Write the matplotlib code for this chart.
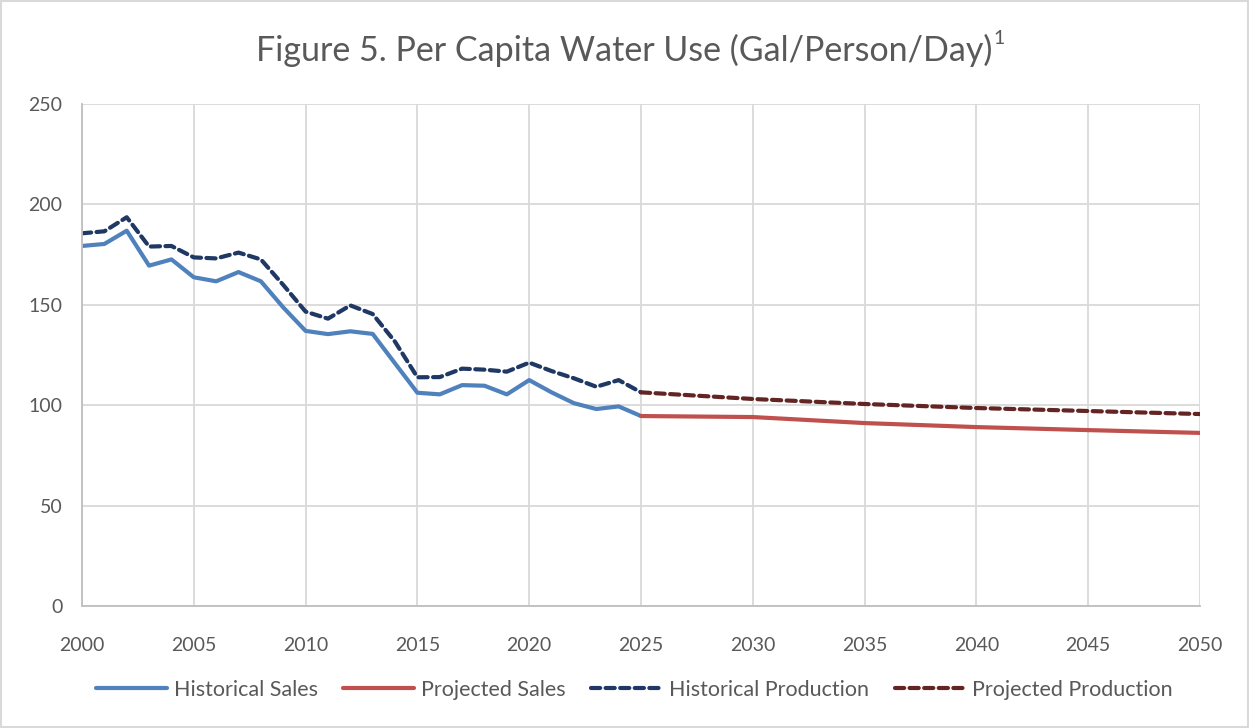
import matplotlib
matplotlib.use("Agg")
import matplotlib.pyplot as plt
from matplotlib.patches import Rectangle

plt.rcParams['font.family'] = ['Lato', 'DejaVu Sans']

hist_years = list(range(2000, 2026))
hist_sales = [179.3, 180.3, 186.9, 169.5, 172.6, 163.7, 161.7, 166.3, 161.7, 148.7,
              137.0, 135.4, 136.8, 135.5, 120.8, 106.2, 105.4, 110.0, 109.7, 105.4,
              112.5, 106.4, 101.0, 98.1, 99.4, 94.6]
hist_prod = [185.6, 186.6, 193.6, 179.0, 179.3, 173.6, 173.1, 176.0, 172.6, 159.9,
             146.6, 143.1, 149.7, 145.4, 131.6, 113.9, 114.0, 118.2, 117.7, 116.7,
             121.2, 117.0, 113.4, 109.2, 112.5, 106.4]
proj_years = [2025, 2030, 2035, 2040, 2045, 2050]
proj_sales = [94.6, 94.1, 91.1, 89.1, 87.6, 86.2]
proj_prod = [106.4, 103.1, 100.6, 98.6, 97.1, 95.6]

x_ticks = list(range(2000, 2051, 5))
y_ticks = [0, 50, 100, 150, 200, 250]

fig = plt.figure(figsize=(12.49, 7.28), dpi=100)
ax = fig.add_axes([82/1249, 1-606/728, (1200-82)/1249, (606-104)/728])

dash = (0, (2.2, 1.3))
ax.plot(hist_years, hist_sales, color='#4F81BD', lw=3, label='Historical Sales', solid_capstyle='round')
ax.plot(proj_years, proj_sales, color='#C0504D', lw=3, label='Projected Sales', solid_capstyle='round')
ax.plot(hist_years, hist_prod, color='#1F3864', lw=3, ls=dash, label='Historical Production', dash_capstyle='round')
ax.plot(proj_years, proj_prod, color='#632523', lw=3, ls=dash, label='Projected Production', dash_capstyle='round')

ax.set_xlim(2000, 2050)
ax.set_ylim(0, 250)
ax.set_xticks(x_ticks)
ax.set_yticks(y_ticks)
ax.grid(True, color='#D9D9D9', lw=1.3)
ax.set_axisbelow(True)
for s in ['top', 'right']:
    ax.spines[s].set_visible(False)
for s in ['left', 'bottom']:
    ax.spines[s].set_color('#BFBFBF')
    ax.spines[s].set_linewidth(1.3)
ax.tick_params(axis='both', length=0, labelsize=14, colors='#595959')
ax.tick_params(axis='x', pad=22)
ax.tick_params(axis='y', pad=14)

title = fig.text(0.50, 1-50/728, 'Figure 5. Per Capita Water Use (Gal/Person/Day)',
                 ha='center', va='center', fontsize=24.5, color='#595959')
fig.canvas.draw()
bb = title.get_window_extent(fig.canvas.get_renderer()).transformed(fig.transFigure.inverted())
fig.text(bb.x1 + 0.001, 1-38/728, '1', ha='left', va='center', fontsize=14, color='#595959')

leg = fig.legend(loc='center', bbox_to_anchor=(0.508, 1-690/728), ncol=4, frameon=False,
                 fontsize=15.5, handlelength=3.3, handletextpad=0.3, columnspacing=1.2,
                 labelcolor='#595959')

fig.patches.append(Rectangle((0.001, 0.001), 0.998, 0.997, transform=fig.transFigure,
                             fill=False, edgecolor='#D9D9D9', lw=1.5))

fig.savefig('out.png', dpi=100, facecolor='white')
